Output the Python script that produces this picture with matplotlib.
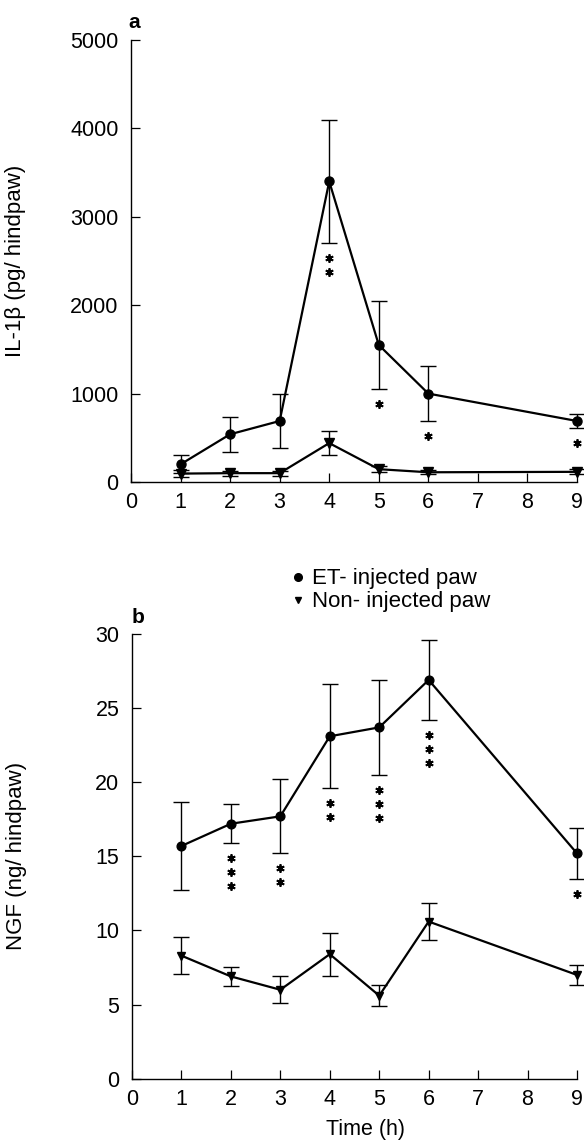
import matplotlib
matplotlib.use('Agg')
import matplotlib.pyplot as plt
import matplotlib.transforms as mtrans
from matplotlib.lines import Line2D

plt.rcParams['font.family'] = ['Liberation Sans', 'DejaVu Sans']

# ---- data ----
time_h = [1, 2, 3, 4, 5, 6, 9]

il1b_et_mean = [200, 540, 690, 3400, 1550, 1000, 690]
il1b_et_sem = [100, 195, 300, 700, 500, 315, 75]
il1b_non_mean = [95, 100, 100, 440, 145, 110, 115]
il1b_non_sem = [40, 30, 30, 135, 35, 25, 30]
il1b_stars = [0, 0, 0, 2, 1, 1, 1]

ngf_et_mean = [15.7, 17.2, 17.7, 23.1, 23.7, 26.9, 15.2]
ngf_et_sem = [3.0, 1.3, 2.5, 3.5, 3.2, 2.7, 1.7]
ngf_non_mean = [8.3, 6.9, 6.0, 8.4, 5.6, 10.6, 7.0]
ngf_non_sem = [1.25, 0.65, 0.92, 1.45, 0.7, 1.25, 0.7]
ngf_stars = [0, 3, 2, 2, 3, 3, 1]

x_ticks = [0, 1, 2, 3, 4, 5, 6, 7, 8, 9]
il1b_ticks = [0, 1000, 2000, 3000, 4000, 5000]
ngf_ticks = [0, 5, 10, 15, 20, 25, 30]

legend_labels = ['ET- injected paw', 'Non- injected paw']

W, H = 584, 1142
fig = plt.figure(figsize=(W / 100, H / 100), dpi=100)

def fx(px):
    return px / W

def fy(py):
    return 1 - py / H

ax1 = fig.add_axes([fx(131), fy(482), (577 - 131) / W, (482 - 40) / H])
ax2 = fig.add_axes([fx(132), fy(1078.7), (577 - 132) / W, (1078.7 - 634) / H])


def style_axis(ax, yticks, ylabel):
    for s in ['top', 'right']:
        ax.spines[s].set_visible(False)
    for s in ['left', 'bottom']:
        ax.spines[s].set_linewidth(1.0)
    ax.set_xlim(0, 9)
    ax.set_ylim(yticks[0], yticks[-1])
    ax.set_xticks(x_ticks)
    ax.set_yticks(yticks)
    ax.tick_params(direction='in', length=6.5, width=0.9, labelsize=15.5)
    ax.tick_params(axis='x', pad=7.5)
    ax.tick_params(axis='y', pad=9)
    ax.set_ylabel(ylabel, fontsize=16)
    ax.yaxis.set_label_coords(-0.235, 0.5)


def add_stars(ax, xs, means, sems, counts, first=15, step=14):
    for x, m, s, n in zip(xs, means, sems, counts):
        for i in range(n):
            dy = (first + step * i) / 100.0
            tr = ax.transData + mtrans.ScaledTranslation(0, -dy, fig.dpi_scale_trans)
            ax.plot([x], [m - s], linestyle='none', marker=(6, 2, 0), ms=6,
                    mew=1.3, color='black', transform=tr, clip_on=False)


def draw_series(ax, mean, sem, marker, ms):
    ax.errorbar(time_h, mean, yerr=sem, color='black', lw=1.6, marker=marker,
                ms=ms, elinewidth=1.0, capsize=6, capthick=1.0, clip_on=False,
                zorder=3)


# ---- panel a ----
draw_series(ax1, il1b_et_mean, il1b_et_sem, 'o', 6.5)
draw_series(ax1, il1b_non_mean, il1b_non_sem, 'v', 7)
add_stars(ax1, time_h, il1b_et_mean, il1b_et_sem, il1b_stars)
style_axis(ax1, il1b_ticks, 'IL-1\u03b2 (pg/ hindpaw)')
fig.text(fx(128), fy(28), 'a', fontsize=15, fontweight='bold', ha='left', va='baseline')

# ---- panel b ----
draw_series(ax2, ngf_et_mean, ngf_et_sem, 'o', 6.3)
draw_series(ax2, ngf_non_mean, ngf_non_sem, 'v', 5.8)
add_stars(ax2, time_h, ngf_et_mean, ngf_et_sem, ngf_stars)
style_axis(ax2, ngf_ticks, 'NGF (ng/ hindpaw)')
fig.text(fx(366), fy(1135), 'Time (h)', fontsize=15.5, ha='center', va='baseline')
fig.text(fx(132), fy(623), 'b', fontsize=15, fontweight='bold', ha='left', va='baseline')

# ---- legend ----
fig.add_artist(Line2D([fx(298)], [fy(577)], marker='o', ms=5.5, color='black',
                      linestyle='none', transform=fig.transFigure))
fig.add_artist(Line2D([fx(298)], [fy(600)], marker='v', ms=5, color='black',
                      linestyle='none', transform=fig.transFigure))
fig.text(fx(312), fy(584), legend_labels[0], fontsize=16, ha='left', va='baseline')
fig.text(fx(312), fy(607), legend_labels[1], fontsize=16, ha='left', va='baseline')

fig.savefig('out.png', dpi=100)
